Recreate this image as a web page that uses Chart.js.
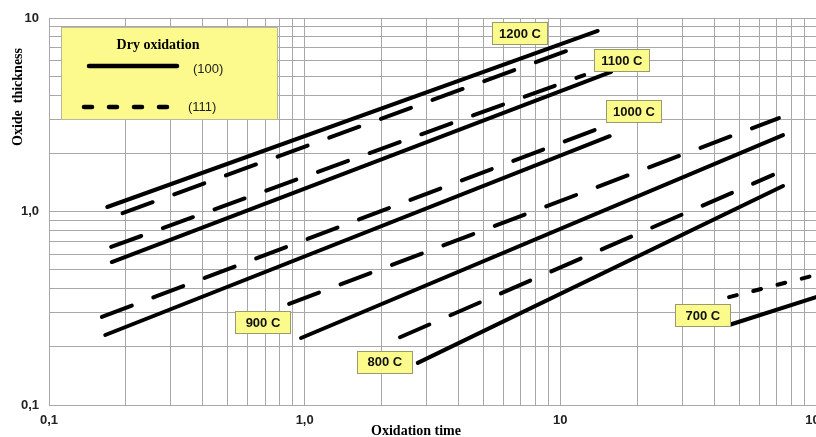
<!DOCTYPE html>
<html>
<head>
<meta charset="utf-8">
<script src="https://cdn.jsdelivr.net/npm/chart.js@4/dist/chart.umd.min.js"></script>
<style>
  html, body { margin: 0; padding: 0; background: #fff; }
  canvas { display: block; }
</style>
</head>
<body>
<canvas id="myChart" width="816" height="437"></canvas>
<script>
// --- Data ---
const temps = ['1200 C', '1100 C', '1000 C', '900 C', '800 C', '700 C'];

// (100) orientation, solid lines: [start, end]
const time100 = [[0.169, 14.0], [0.176, 15.8], [0.166, 15.6], [0.968, 74.3], [2.77, 74.3], [45.7, 100]];
const thick100 = [[1.055, 8.57], [0.548, 5.26], [0.230, 2.45], [0.222, 2.48], [0.165, 1.355], [0.259, 0.361]];

// (111) orientation, dashed lines: [start, end]
const time111 = [[0.194, 11.4], [0.175, 12.4], [0.161, 14.7], [0.869, 71.6], [2.36, 67.9], [45.7, 100]];
const thick111 = [[0.98, 7.0], [0.656, 5.07], [0.285, 2.74], [0.333, 3.04], [0.224, 1.545], [0.361, 0.470]];

// where the temperature tags sit (time, thickness)
const tagTime = [6.95, 17.4, 19.4, 0.687, 2.06, 36.1];
const tagThick = [8.37, 6.06, 3.30, 0.268, 0.167, 0.292];

// tick labels
const xMajor = [0.1, 1, 10, 100];
const xLabels = ['0,1', '1,0', '10', '100'];
const yMajor = [0.1, 1, 10];
const yLabels = ['0,1', '1,0', '10'];

// --- helpers ---
function decadeTicks(majors) {
    const out = [];
    for (let i = 0; i < majors.length - 1; i++) {
        for (let k = 1; k < 10; k++) out.push(+(majors[i] * k).toPrecision(3));
    }
    out.push(majors[majors.length - 1]);
    return out;
}

function labelFor(value, majors, labels) {
    for (let i = 0; i < majors.length; i++) {
        if (Math.abs(value - majors[i]) < majors[i] * 1e-6) return labels[i];
    }
    return '';
}

const gridColor = '#a8a8a8';

const datasets = [];
temps.forEach((t, i) => {
    datasets.push({
        label: t + ' (100)',
        data: [{ x: time100[i][0], y: thick100[i][0] }, { x: time100[i][1], y: thick100[i][1] }],
        borderColor: '#000',
        borderWidth: 4,
        borderCapStyle: 'round',
        pointRadius: 0,
        tension: 0
    });
    datasets.push({
        label: t + ' (111)',
        data: [{ x: time111[i][0], y: thick111[i][0] }, { x: time111[i][1], y: thick111[i][1] }],
        borderColor: '#000',
        borderWidth: 4,
        borderCapStyle: 'round',
        // the 700 C curve is drawn with short dashes
        borderDash: t === '700 C' ? [8, 17] : [32, 23],
        pointRadius: 0,
        tension: 0
    });
});

// Draws the legend box, the temperature tags and the axis titles
const decorPlugin = {
    id: 'decor',
    afterDatasetsDraw(chart) {
        const ctx = chart.ctx;
        const xs = chart.scales.x, ys = chart.scales.y;
        ctx.save();

        // legend box
        ctx.fillStyle = '#fcf98d';
        ctx.fillRect(61, 27, 216, 92);
        ctx.strokeStyle = '#b8b8a0';
        ctx.lineWidth = 1;
        ctx.strokeRect(61.5, 27.5, 216, 92);

        ctx.fillStyle = '#000';
        ctx.font = 'bold 14px "Liberation Serif", "Times New Roman", serif';
        ctx.textAlign = 'center';
        ctx.textBaseline = 'middle';
        ctx.fillText('Dry oxidation', 158, 45);

        ctx.strokeStyle = '#000';
        ctx.lineCap = 'round';
        ctx.lineWidth = 4.5;
        ctx.beginPath();
        ctx.moveTo(89, 66);
        ctx.lineTo(177, 66);
        ctx.stroke();

        ctx.setLineDash([8, 17]);
        ctx.beginPath();
        ctx.moveTo(84, 107);
        ctx.lineTo(172, 107);
        ctx.stroke();
        ctx.setLineDash([]);

        ctx.fillStyle = '#222';
        ctx.font = '13px "Liberation Sans", Arial, sans-serif';
        ctx.textAlign = 'left';
        ctx.fillText('(100)', 193, 69);
        ctx.fillText('(111)', 188, 107);

        // temperature tags
        ctx.font = 'bold 13px "Liberation Sans", Arial, sans-serif';
        ctx.textAlign = 'center';
        temps.forEach((t, i) => {
            const cx = xs.getPixelForValue(tagTime[i]);
            const cy = ys.getPixelForValue(tagThick[i]);
            const w = 55, h = 22;
            ctx.fillStyle = '#fbfb8c';
            ctx.fillRect(cx - w / 2, cy - h / 2, w, h);
            ctx.strokeStyle = '#9a9a70';
            ctx.lineWidth = 1;
            ctx.strokeRect(Math.round(cx - w / 2) + 0.5, Math.round(cy - h / 2) + 0.5, w, h);
            ctx.fillStyle = '#111';
            ctx.fillText(t, cx, cy + 1);
        });

        // axis titles
        ctx.fillStyle = '#000';
        ctx.font = 'bold 14px "Liberation Serif", "Times New Roman", serif';
        ctx.fillText('Oxidation time', 416, 431);
        ctx.translate(18, 97);
        ctx.rotate(-Math.PI / 2);
        ctx.fillText('Oxide  thickness', 0, 0);

        ctx.restore();
    }
};

function renderChart() {
    const ctx = document.getElementById('myChart').getContext('2d');

    const chartConfig = {
        type: 'line',
        data: { datasets: datasets },
        options: {
            responsive: false,
            animation: false,
            layout: { padding: { top: 18, right: 0, left: 0, bottom: 0 } },
            plugins: {
                legend: { display: false },
                tooltip: { enabled: false }
            },
            scales: {
                x: {
                    type: 'logarithmic',
                    min: 0.1,
                    max: 100,
                    afterFit: s => { s.height = 32; s.paddingLeft = 0; s.paddingRight = 0; },
                    afterBuildTicks: s => { s.ticks = decadeTicks(xMajor).map(v => ({ value: v })); },
                    border: { color: gridColor },
                    grid: { color: gridColor, drawTicks: false },
                    ticks: {
                        autoSkip: false,
                        maxRotation: 0,
                        padding: 8,
                        color: '#222',
                        font: { family: '"Liberation Sans", Arial, sans-serif', size: 13, weight: 'bold' },
                        callback: v => labelFor(v, xMajor, xLabels)
                    }
                },
                y: {
                    type: 'logarithmic',
                    min: 0.1,
                    max: 10,
                    afterFit: s => { s.width = 49; s.paddingTop = 0; s.paddingBottom = 0; },
                    afterBuildTicks: s => { s.ticks = decadeTicks(yMajor).map(v => ({ value: v })); },
                    border: { color: gridColor },
                    grid: { color: gridColor, drawTicks: false },
                    ticks: {
                        autoSkip: false,
                        padding: 10,
                        color: '#222',
                        font: { family: '"Liberation Sans", Arial, sans-serif', size: 13, weight: 'bold' },
                        callback: v => labelFor(v, yMajor, yLabels)
                    }
                }
            }
        },
        plugins: [decorPlugin]
    };

    new Chart(ctx, chartConfig);
}

renderChart();
</script>
</body>
</html>
